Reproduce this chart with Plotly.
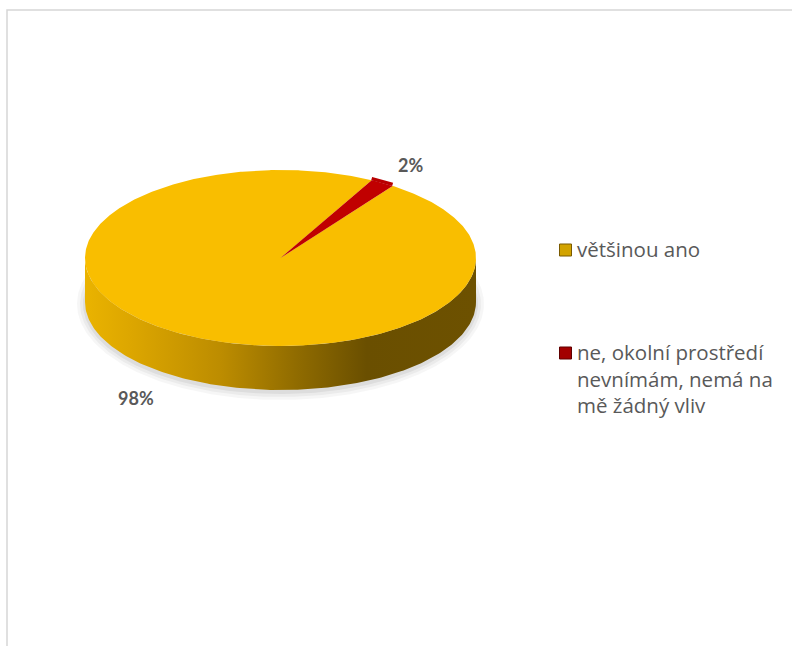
import numpy as np
import plotly.graph_objects as go

# Survey answers and their shares (percent)
categories = ["většinou ano", "ne, okolní prostředí nevnímám, nemá na mě žádný vliv"]
legend_labels = ["většinou ano", "ne, okolní prostředí<br>nevnímám, nemá na<br>mě žádný vliv"]
values = [98, 2]
slice_colors = ["#F9BE00", "#C00000"]
swatch_colors = ["#D2A300", "#A30000"]
swatch_edges = ["#7A5A00", "#600000"]

W, H = 792, 646
# tilted-pie geometry in pixel units
CX, CY, RX, RY, DEPTH = 280.5, 258, 195.5, 88, 44
FIRST_ANGLE = 35.0  # degrees, clockwise from 12 o'clock


def ellipse(theta_deg, dy=0.0, grow=0.0):
    t = np.radians(theta_deg)
    return CX + (RX + grow) * np.sin(t), CY - (RY + grow) * np.cos(t) + dy


fig = go.Figure()

# soft shadow below the disc
for grow, alpha in [(8, 0.035), (5, 0.045), (2, 0.06)]:
    th = np.linspace(0, 360, 361)
    x, y = ellipse(th, DEPTH + 2, grow)
    fig.add_trace(go.Scatter(x=x, y=y, mode="lines", fill="toself",
                             fillcolor=f"rgba(0,0,0,{alpha})", line=dict(width=0),
                             hoverinfo="skip", showlegend=False))

# visible front wall of the disc
th = np.linspace(90, 270, 181)
xt, yt = ellipse(th)
xb, yb = ellipse(th[::-1], DEPTH)
fig.add_trace(go.Scatter(
    x=np.concatenate([xt, xb]), y=np.concatenate([yt, yb]),
    mode="lines", fill="toself", line=dict(width=0),
    fillgradient=dict(type="horizontal", start=CX - RX, stop=CX + RX,
                      colorscale=[[0, "#EAB300"], [0.12, "#DCA600"], [0.35, "#BC8C00"],
                                  [0.55, "#8E6A00"], [0.72, "#6A4F00"], [1, "#6D5100"]]),
    hoverinfo="skip", showlegend=False))

# top face slices
total = float(sum(values))
start = FIRST_ANGLE
arcs = []
for cat, v, col in zip(categories, values, slice_colors):
    sweep = v / total * 360.0
    th = np.linspace(start, start + sweep, max(int(sweep * 2), 8))
    ax, ay = ellipse(th)
    arcs.append((ax, ay, col))
    fig.add_trace(go.Scatter(
        x=np.concatenate([[CX], ax, [CX]]), y=np.concatenate([[CY], ay, [CY]]),
        mode="lines", fill="toself", fillcolor=col, line=dict(width=0),
        name=cat, hoverinfo="name", showlegend=False))
    start += sweep

# raised edge of the small slice
ax, ay, col = arcs[1]
fig.add_trace(go.Scatter(x=ax, y=ay - 1.5, mode="lines", line=dict(color="#B80000", width=3.5),
                         hoverinfo="skip", showlegend=False))

# percentage labels
label_pos = [(136, 398), (410, 165)]
for v, (lx, ly) in zip(values, label_pos):
    fig.add_annotation(x=lx, y=ly, text=f"<b>{v}%</b>", showarrow=False,
                       font=dict(family="Lato", size=18, color="#595959"),
                       xanchor="center", yanchor="middle")

# legend: swatches and labels
legend_rows = [250, 353]
for lab, sc, se, ry in zip(legend_labels, swatch_colors, swatch_edges, legend_rows):
    fig.add_trace(go.Scatter(x=[565.5], y=[ry], mode="markers",
                             marker=dict(symbol="square", size=12, color=sc,
                                         line=dict(color=se, width=1)),
                             hoverinfo="skip", showlegend=False))
    fig.add_annotation(x=575, y=ry - 17, text=lab, showarrow=False, align="left",
                       xanchor="left", yanchor="top",
                       font=dict(family="Open Sans", size=20.5, color="#595959"))

# chart-area border
fig.add_shape(type="rect", xref="paper", yref="paper",
              x0=7 / W, x1=1.05, y0=-0.05, y1=1 - 10 / H,
              line=dict(color="#D6D6D6", width=1.5), fillcolor="rgba(0,0,0,0)")

fig.update_layout(
    width=W, height=H, autosize=False,
    margin=dict(l=0, r=0, t=0, b=0),
    paper_bgcolor="white", plot_bgcolor="white",
    xaxis=dict(range=[0, W], visible=False, fixedrange=True),
    yaxis=dict(range=[H, 0], visible=False, fixedrange=True),
    showlegend=False,
)

fig.write_html("out.html")
